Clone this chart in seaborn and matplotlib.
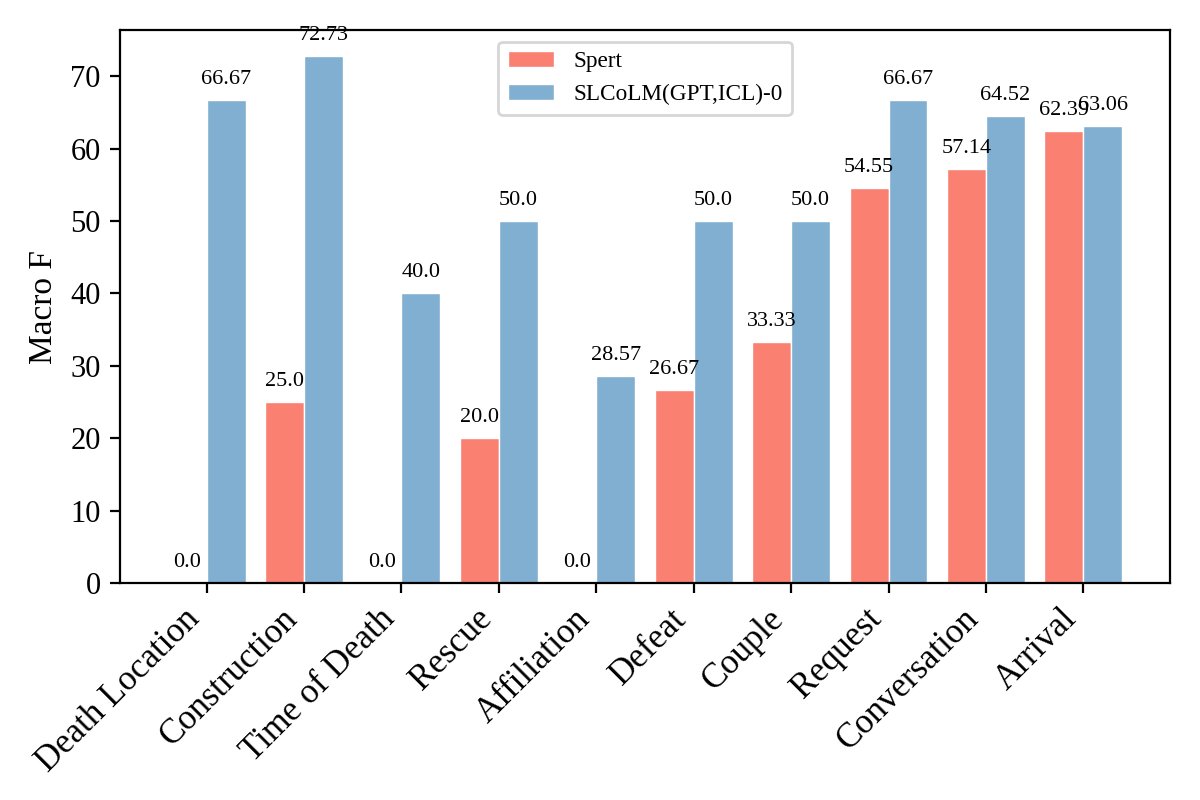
import matplotlib
matplotlib.use("Agg")
import matplotlib.pyplot as plt
import seaborn as sns
import pandas as pd

categories = ["Death Location", "Construction", "Time of Death", "Rescue", "Affiliation",
              "Defeat", "Couple", "Request", "Conversation", "Arrival"]
spert = [0.0, 25.0, 0.0, 20.0, 0.0, 26.67, 33.33, 54.55, 57.14, 62.39]
slcolm = [66.67, 72.73, 40.0, 50.0, 28.57, 50.0, 50.0, 66.67, 64.52, 63.06]
series_names = ["Spert", "SLCoLM(GPT,ICL)-0"]
colors = ["#FA8072", "#80AFD1"]

sns.set_style("ticks")
plt.rcParams["font.family"] = ["Liberation Serif", "DejaVu Serif"]
plt.rcParams["text.color"] = "black"
plt.rcParams["axes.labelcolor"] = "black"
plt.rcParams["xtick.color"] = "black"
plt.rcParams["ytick.color"] = "black"

df = pd.DataFrame({
    "Category": categories * 2,
    "Macro F": spert + slcolm,
    "Model": [series_names[0]] * len(categories) + [series_names[1]] * len(categories),
})

fig, ax = plt.subplots(figsize=(6, 4), dpi=200)
fig.subplots_adjust(left=0.1, right=0.975, top=0.9625, bottom=0.271)

sns.barplot(data=df, x="Category", y="Macro F", hue="Model", palette=colors,
            saturation=1, edgecolor="white", linewidth=0.5, ax=ax, width=0.8)

for cont, vals in zip(ax.containers, [spert, slcolm]):
    ax.bar_label(cont, labels=[str(v) for v in vals], padding=4, fontsize=8, color="black")

ax.set_xlim(-0.89, len(categories) - 1 + 0.89)
ax.set_ylim(0, max(slcolm) * 1.05)
ax.set_xlabel("")
ax.set_ylabel("Macro F", fontsize=12, color="black")
ax.tick_params(axis="y", labelsize=11, colors="black")
ax.tick_params(axis="x", labelsize=12.5, colors="black")
plt.setp(ax.get_xticklabels(), rotation=45, ha="right")
for s in ax.spines.values():
    s.set_visible(True)
    s.set_linewidth(0.8)
    s.set_color("black")

leg = ax.legend(loc="upper center", fontsize=8.4, title=None, frameon=True)
for t in leg.get_texts():
    t.set_color("black")

fig.savefig("out.png", dpi=200)
